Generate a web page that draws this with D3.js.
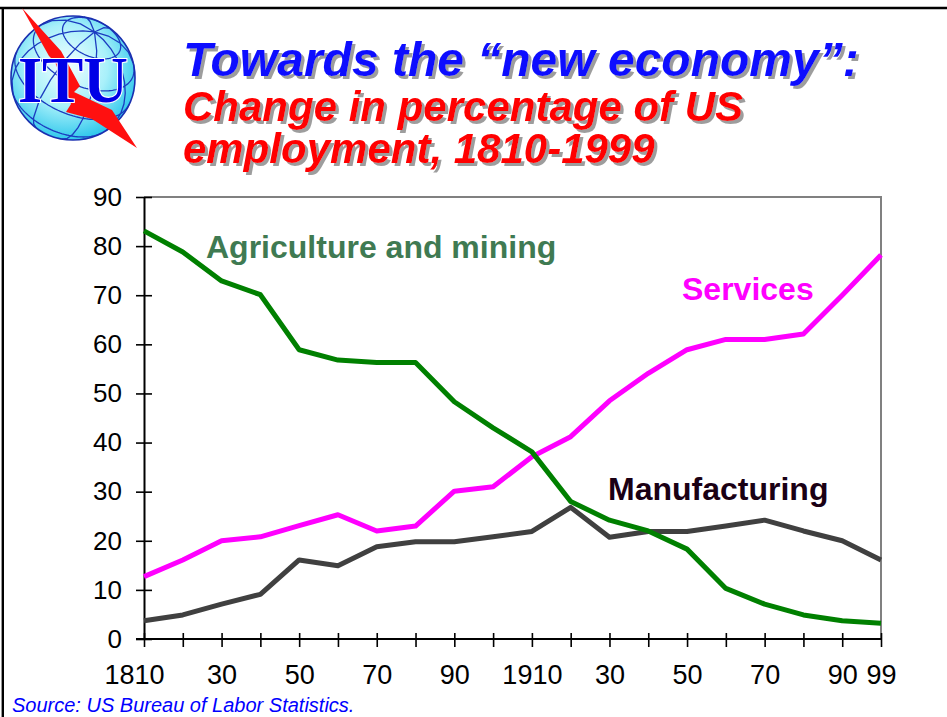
<!DOCTYPE html>
<html>
<head>
<meta charset="utf-8">
<script src="https://cdn.jsdelivr.net/npm/d3@7"></script>
<style>
  html, body { margin: 0; padding: 0; background: #fff; }
  svg { display: block; }
  text { font-family: "Liberation Sans", Arial, sans-serif; }
</style>
</head>
<body>
<svg id="chart" width="947" height="717"></svg>
<script>
// US employment share by sector (%), 1810-1999
const years = ["1810","1820","1830","1840","1850","1860","1870","1880","1890","1900",
               "1910","1920","1930","1940","1950","1960","1970","1980","1990","1999"];
const agriculture = [83.1, 78.8, 72.9, 70.1, 58.9, 56.8, 56.3, 56.3, 48.3, 43.0,
                     38.1, 28.0, 24.2, 22.0, 18.3, 10.3, 7.1, 4.9, 3.7, 3.2];
const services = [12.7, 16.1, 20.0, 20.8, 23.1, 25.3, 22.0, 23.0, 30.1, 31.0,
                  37.1, 41.2, 48.5, 54.1, 58.9, 61.0, 61.0, 62.1, 70.0, 78.2];
const manufacturing = [3.7, 4.9, 7.1, 9.1, 16.1, 14.9, 18.8, 19.8, 19.8, 20.8,
                       21.9, 26.8, 20.7, 21.9, 21.9, 23.0, 24.2, 22.0, 20.0, 16.1];
// axis labels
const xTickLabels = ["1810","","30","","50","","70","","90","",
                     "1910","","30","","50","","70","","90","99"];
const yTicks = [0, 10, 20, 30, 40, 50, 60, 70, 80, 90];
const seriesNames = ["Agriculture and mining", "Services", "Manufacturing"];
const titleLines = ["Towards the \u201cnew economy\u201d:", "Change in percentage of US", "employment, 1810-1999"];
const sourceText = "Source: US Bureau of Labor Statistics.";

const svg = d3.select("#chart");
const defs = svg.append("defs");

// slide frame
svg.append("line").attr("x1", 0).attr("x2", 947).attr("y1", 8).attr("y2", 8)
  .attr("stroke", "#000").attr("stroke-width", 2.6);
svg.append("line").attr("x1", 2.8).attr("x2", 2.8).attr("y1", 7).attr("y2", 717)
  .attr("stroke", "#000").attr("stroke-width", 2.4);

// ---- ITU logo ----
const logo = svg.append("g");
const grad = defs.append("radialGradient").attr("id", "globeGrad")
  .attr("cx", "45%").attr("cy", "40%").attr("r", "60%");
grad.append("stop").attr("offset", "0%").attr("stop-color", "#f2ffff");
grad.append("stop").attr("offset", "55%").attr("stop-color", "#a8f0fa");
grad.append("stop").attr("offset", "100%").attr("stop-color", "#30c8ec");
const proj = d3.geoOrthographic().scale(62).translate([73, 78]).rotate([25, -35, -25]).clipAngle(90);
const geoPath = d3.geoPath(proj);
logo.append("circle").attr("cx", 73).attr("cy", 78).attr("r", 62).attr("fill", "url(#globeGrad)");
logo.append("path").datum(d3.geoGraticule().step([45, 30])())
  .attr("d", geoPath).attr("fill", "none").attr("stroke", "#1c3cc0").attr("stroke-width", 1.3);
logo.append("circle").attr("cx", 73).attr("cy", 78).attr("r", 62)
  .attr("fill", "none").attr("stroke", "#1a2fb0").attr("stroke-width", 1.6);
// lightning bolt
logo.append("path")
  .attr("d", "M22,8 L61,51 L80,86 L74,92 L112,110 L137,148 L92,119 L66,112 L71,104 L55,62 L49,56 Z")
  .attr("fill", "#ff1010");
logo.append("text").text("ITU")
  .attr("x", 18).attr("y", 102)
  .attr("textLength", 110).attr("lengthAdjust", "spacingAndGlyphs")
  .style("font-family", "'Liberation Serif', 'Times New Roman', serif")
  .style("font-weight", "bold").style("font-size", "66px")
  .attr("fill", "#0000e6").attr("stroke", "#fff").attr("stroke-width", 2.2)
  .attr("paint-order", "stroke");

// ---- title with soft grey drop shadow ----
const shadow = defs.append("filter").attr("id", "titleShadow")
  .attr("x", "-5%").attr("y", "-20%").attr("width", "115%").attr("height", "150%");
shadow.append("feDropShadow").attr("dx", 3).attr("dy", 3).attr("stdDeviation", 0.6)
  .attr("flood-color", "#8c8c8c").attr("flood-opacity", 0.85);
const titleSpecs = [
  { text: titleLines[0], y: 76, size: 48, color: "#0a0aff" },
  { text: titleLines[1], y: 121, size: 42, color: "#ff0000" },
  { text: titleLines[2], y: 163, size: 42, color: "#ff0000" }
];
svg.append("g").attr("filter", "url(#titleShadow)")
  .selectAll("text").data(titleSpecs).join("text")
  .text(d => d.text).attr("x", 183).attr("y", d => d.y)
  .style("font-size", d => d.size + "px").style("font-weight", "bold").style("font-style", "italic")
  .attr("fill", d => d.color);

// ---- chart ----
const x = d3.scalePoint().domain(years).range([144, 881]);
const y = d3.scaleLinear().domain([0, 90]).range([639, 197]);

// plot frame (top and right)
svg.append("path")
  .attr("d", `M${x.range()[0]},${y(90)} H${x.range()[1]} V${y(0)}`)
  .attr("fill", "none").attr("stroke", "#808080").attr("stroke-width", 2);

// y axis
const yAxis = svg.append("g").attr("transform", `translate(${x.range()[0]},0)`)
  .call(d3.axisLeft(y).tickValues(yTicks).tickSizeInner(8).tickSizeOuter(0).tickPadding(14));
yAxis.select(".domain").attr("stroke", "#000").attr("stroke-width", 2);
yAxis.selectAll(".tick line").attr("x1", 8).attr("x2", -8).attr("stroke", "#000").attr("stroke-width", 1.6);
yAxis.selectAll(".tick text").style("font-size", "26px").attr("fill", "#000");

// x axis
const xAxis = svg.append("g").attr("transform", `translate(0,${y(0)})`)
  .call(d3.axisBottom(x).tickFormat((d, i) => xTickLabels[i]).tickSizeInner(8).tickSizeOuter(0).tickPadding(18));
xAxis.select(".domain").attr("d", `M${x.range()[0] - 8},0H${x.range()[1]}`)
  .attr("stroke", "#000").attr("stroke-width", 2);
xAxis.selectAll(".tick line").attr("y1", -6).attr("y2", 8).attr("stroke", "#000").attr("stroke-width", 1.6);
xAxis.selectAll(".tick text").style("font-size", "27px").attr("fill", "#000")
  .attr("dx", (d, i) => i === 0 ? -10 : 0);
svg.selectAll(".tick text").style("font-family", "'Liberation Sans', Arial, sans-serif");

// series lines
const line = d3.line().x((d, i) => x(years[i])).y(d => y(d));
const series = [
  { values: manufacturing, color: "#404040" },
  { values: services, color: "#ff00ff" },
  { values: agriculture, color: "#008000" }
];
svg.append("g").selectAll("path").data(series).join("path")
  .attr("d", d => line(d.values))
  .attr("fill", "none").attr("stroke", d => d.color).attr("stroke-width", 5)
  .attr("stroke-linejoin", "round");

// series labels
const labels = [
  { text: seriesNames[0], x: 206, y: 258, color: "#3f7a52" },
  { text: seriesNames[1], x: 682, y: 300, color: "#ff00ff" },
  { text: seriesNames[2], x: 608, y: 500, color: "#1a0014" }
];
svg.append("g").selectAll("text").data(labels).join("text")
  .text(d => d.text).attr("x", d => d.x).attr("y", d => d.y)
  .attr("fill", d => d.color)
  .style("font-size", "32px").style("font-weight", "bold");

// source note
svg.append("text").text(sourceText).attr("x", 12).attr("y", 712)
  .style("font-size", "20px").style("font-style", "italic").attr("fill", "#0000ff");
</script>
</body>
</html>
